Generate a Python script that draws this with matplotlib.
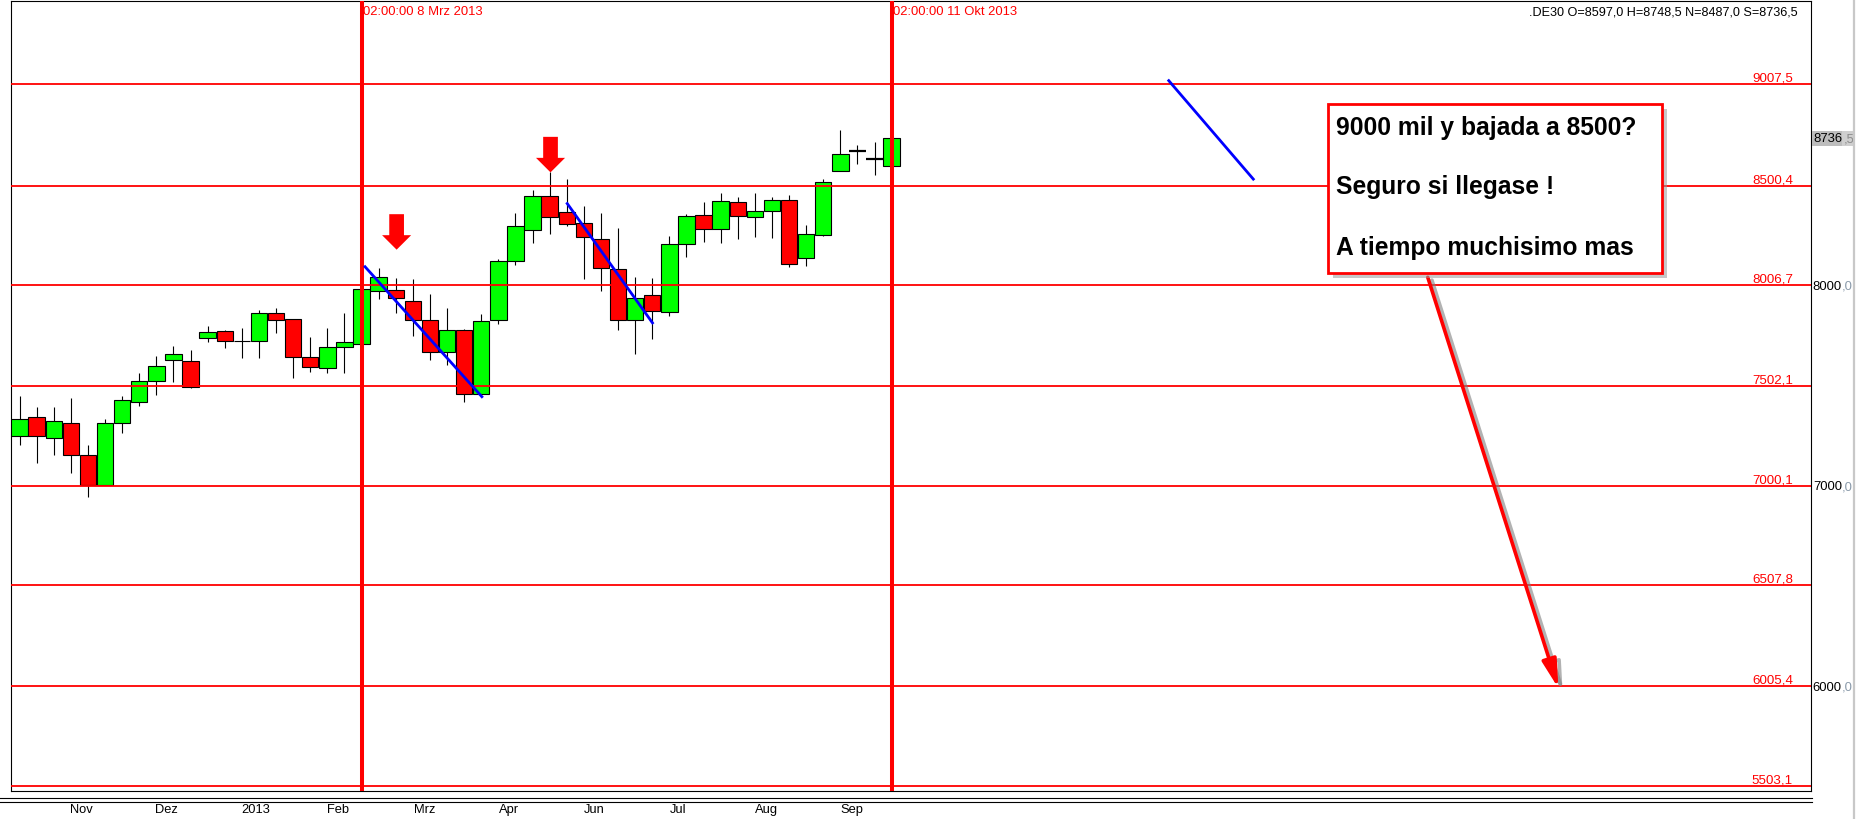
import matplotlib
matplotlib.use("Agg")
import matplotlib.pyplot as plt
import matplotlib.patheffects as pe
from matplotlib.patches import Rectangle, Polygon
from matplotlib.lines import Line2D

plt.rcParams['font.family'] = ['Liberation Sans', 'DejaVu Sans']

# weekly candles, DE30 (index 0 = first visible week)
opens = [7250, 7344, 7240, 7314, 7155, 7006, 7314, 7419, 7524, 7629,
         7624, 7739, 7774, 7726, 7724, 7864, 7834, 7644, 7589, 7694,
         7709, 7973, 7978, 7923, 7829, 7669, 7779, 7459, 7829, 8123,
         8278, 8448, 8368, 8313, 8233, 8083, 7829, 7953, 7869, 8208,
         8353, 8283, 8418, 8343, 8373, 8428, 8138, 8253, 8572, 8675,
         8635, 8597.0]
highs = [7451, 7396, 7396, 7441, 7206, 7336, 7451, 7566, 7650, 7700,
         7680, 7800, 7780, 7790, 7880, 7890, 7835, 7745, 7790, 7867,
         7995, 8090, 8038, 8033, 7958, 7889, 7784, 7859, 8135, 8364,
         8477, 8568, 8534, 8398, 8364, 8288, 8043, 8039, 8248, 8360,
         8418, 8463, 8443, 8463, 8443, 8453, 8303, 8532, 8777, 8702,
         8717, 8748.5]
lows = [7208, 7118, 7156, 7068, 6948, 7006, 7268, 7399, 7457, 7522,
        7489, 7722, 7689, 7639, 7639, 7764, 7542, 7572, 7567, 7567,
        7700, 7935, 7864, 7752, 7630, 7607, 7419, 7459, 7812, 8106,
        8216, 8261, 8298, 8037, 7973, 7778, 7658, 7733, 7849, 8143,
        8218, 8213, 8233, 8243, 8238, 8093, 8098, 8248, 8572, 8607,
        8552, 8487.0]
closes = [7334, 7250, 7324, 7155, 7006, 7314, 7429, 7524, 7599, 7659,
          7494, 7769, 7725, 7724, 7864, 7830, 7644, 7594, 7694, 7719,
          7983, 8043, 7938, 7829, 7669, 7779, 7459, 7824, 8123, 8298,
          8448, 8343, 8308, 8243, 8088, 7829, 7938, 7874, 8208, 8348,
          8283, 8423, 8348, 8373, 8428, 8108, 8258, 8517, 8657, 8675,
          8635, 8736.5]

level_values = [9007.5, 8500.4, 8006.7, 7502.1, 7000.1, 6507.8, 6005.4, 5503.1]
level_labels = ['9007,5', '8500,4', '8006,7', '7502,1', '7000,1', '6507,8', '6005,4', '5503,1']

axis_values = [8000, 7000, 6000]
axis_int = ['8000', '7000', '6000']
axis_dec = [',0', ',0', ',0']

month_pos = [3.6, 8.6, 13.8, 18.6, 23.7, 28.6, 33.6, 38.5, 43.7, 48.7]
month_labels = ['Nov', 'Dez', '2013', 'Feb', 'Mrz', 'Apr', 'Jun', 'Jul', 'Aug', 'Sep']

vline_pos = [20, 51]
vline_labels = ['02:00:00 8 Mrz 2013', '02:00:00 11 Okt 2013']

# trend lines (week index, price)
blue_lines = [((20.15, 8101), (27.09, 7442)),
              ((31.98, 8417), (37.06, 7810)),
              ((67.15, 9030), (72.2, 8528))]
down_arrows = [(22.05, 8181), (31.05, 8567)]   # tip of red arrows
note_arrow = ((82.35, 8043), (89.99, 5992))

header = '.DE30 O=8597,0 H=8748,5 N=8487,0 S=8736,5'
last_int, last_dec = '8736', ',5'
note_lines = ['9000 mil y bajada a 8500?', 'Seguro si llegase !', 'A tiempo muchisimo mas']

W, H = 1857, 820
GREEN, RED = '#00ff00', '#ff0000'


def fx(px):
    return px / W


def fy(py):
    return 1 - py / H


fig = plt.figure(figsize=(W / 100, H / 100), dpi=100)
ax = fig.add_axes([fx(11), fy(791.7), fx(1800), (791.7 - 2.3) / H])
ax.set_xlim(-0.5, 104.76)
ax.set_ylim(5480.5, 9420.8)
for s in ax.spines.values():
    s.set_linewidth(0.8)
ax.set_yticks([])
ax.set_xticks(month_pos)
ax.set_xticklabels(month_labels, fontsize=9.3)
ax.tick_params(axis='x', length=0, pad=8.5)

# candles
for i, (o, h, l, c) in enumerate(zip(opens, highs, lows, closes)):
    ax.vlines(i, l, h, color='black', lw=0.8, zorder=2)
    if c == o:
        ax.hlines(o, i - 0.5, i + 0.5, color='black', lw=1.6, zorder=3)
        continue
    col = GREEN if c > o else RED
    ax.bar(i, abs(c - o), bottom=min(o, c), width=0.96, color=col,
           edgecolor='black', linewidth=0.8, zorder=3)

# support / resistance levels
for v, lab in zip(level_values, level_labels):
    ax.axhline(v, color=RED, lw=1.3, zorder=4)
    ax.annotate(lab, xy=(0.99, v), xycoords=('axes fraction', 'data'),
                xytext=(0, 2.4), textcoords='offset points',
                ha='right', va='baseline', color=RED, fontsize=9.6)

for xv, lab in zip(vline_pos, vline_labels):
    ax.axvline(xv, color=RED, lw=2.9, zorder=5)
    ax.annotate(lab, xy=(xv, 1), xycoords=('data', 'axes fraction'),
                xytext=(1.0, -9.0), textcoords='offset points',
                ha='left', va='baseline', color=RED, fontsize=9.4)

for (x0, y0), (x1, y1) in blue_lines:
    ax.plot([x0, x1], [y0, y1], color='#0000ff', lw=2, zorder=6,
            solid_capstyle='butt')

# red down arrows
ppx = 4.9915  # price per pixel
for xa, tip in down_arrows:
    hb = tip + 14.5 * ppx
    top = hb + 21 * ppx
    verts = [(xa - 0.43, top), (xa + 0.43, top), (xa + 0.43, hb), (xa + 0.85, hb),
             (xa, tip), (xa - 0.85, hb), (xa - 0.43, hb)]
    ax.add_patch(Polygon(verts, closed=True, color=RED, lw=0, zorder=6))

# right price axis
for v, a, b in zip(axis_values, axis_int, axis_dec):
    t1 = ax.annotate(a, xy=(1, v), xycoords=('axes fraction', 'data'),
                     xytext=(1.3, 0), textcoords='offset points',
                     ha='left', va='center', fontsize=9.4, color='black',
                     annotation_clip=False)
    ax.annotate(b, xy=(1, 0.5), xycoords=t1, ha='left', va='center',
                fontsize=9.4, color='#8a9aaa')

t1 = ax.annotate(last_int, xy=(1, closes[-1]), xycoords=('axes fraction', 'data'),
                 xytext=(1.6, 0), textcoords='offset points',
                 ha='left', va='center', fontsize=9.4, color='black',
                 bbox=dict(facecolor='#bdbdbd', edgecolor='none', pad=0.8),
                 annotation_clip=False)
ax.annotate(last_dec, xy=(1, 0.5), xycoords=t1, xytext=(0.8, 0),
            textcoords='offset points', ha='left', va='center', fontsize=9.4,
            color='#8a8a8a', bbox=dict(facecolor='#cfcfcf', edgecolor='none', pad=0.8))

ax.annotate(header, xy=(1, 1), xycoords='axes fraction', xytext=(-9.4, -9.2),
            textcoords='offset points', ha='right', va='baseline', fontsize=9.1)

# note box with shadow
bx0, by0, bx1, by1 = 1328.3, 105, 1661.7, 274
fig.add_artist(Rectangle((fx(bx0 + 5), fy(by1 + 5)), fx(bx1 - bx0), (by1 - by0) / H,
                         transform=fig.transFigure, facecolor='#9a9a9a', alpha=0.55,
                         edgecolor='none', zorder=5))
fig.add_artist(Rectangle((fx(bx0), fy(by1)), fx(bx1 - bx0), (by1 - by0) / H,
                         transform=fig.transFigure, facecolor='white',
                         edgecolor=RED, lw=2.0, zorder=6))
for txt, base in zip(note_lines, [135, 194, 255]):
    fig.text(fx(1335.5), fy(base), txt, fontsize=17.7, fontweight='bold',
             ha='left', va='baseline', zorder=7)

(sx, sy), (ex, ey) = note_arrow
ax.annotate('', xy=(ex, ey), xytext=(sx, sy),
            arrowprops=dict(arrowstyle='-|>,head_length=0.85,head_width=0.22',
                            color=RED, lw=2.6, mutation_scale=20, shrinkA=0, shrinkB=0,
                            path_effects=[pe.SimpleLineShadow(offset=(3, -2), shadow_color='gray',
                                                              alpha=0.6), pe.Normal()]),
            zorder=7, annotation_clip=False)

# window decorations
for yy in (799.2, 802.6):
    fig.add_artist(Line2D([0, fx(1811.5)], [fy(yy), fy(yy)], color='black', lw=0.8))
fig.add_artist(Line2D([fx(1853.5), fx(1853.5)], [0, 1], color='#c8c8c8', lw=1.6))

fig.savefig('out.png', dpi=100)
